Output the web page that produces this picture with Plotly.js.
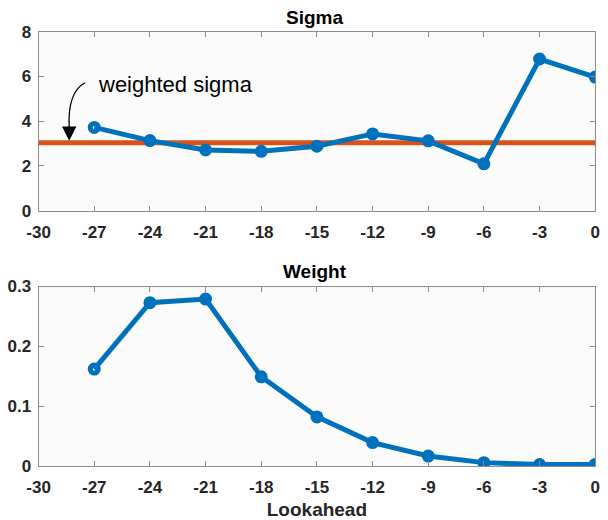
<!DOCTYPE html>
<html>
<head>
<meta charset="utf-8">
<script src="https://cdn.plot.ly/plotly-3.0.1.min.js"></script>
<style>html,body{margin:0;padding:0;background:#fff;}#chart{width:608px;height:520px;}</style>
</head>
<body>
<div id="chart"></div>
<script>
const lookahead = [-27, -24, -21, -18, -15, -12, -9, -6, -3, 0];
const sigma = [3.72, 3.13, 2.71, 2.65, 2.88, 3.43, 3.12, 2.09, 6.78, 5.97];
const weightedSigma = 3.04;
const weight = [0.162, 0.273, 0.279, 0.149, 0.082, 0.039, 0.0165, 0.0055, 0.0022, 0.0025];
const xTicks = [-30, -27, -24, -21, -18, -15, -12, -9, -6, -3, 0];
const xTickText = ['-30', '-27', '-24', '-21', '-18', '-15', '-12', '-9', '-6', '-3', '0'];
const sigmaTicks = [0, 2, 4, 6, 8];
const weightTicks = [0, 0.1, 0.2, 0.3];
const weightTickText = ['0', '0.1', '0.2', '0.3'];

const blue = '#0072BD', orange = '#D95319';
const fam = 'Liberation Sans, Arial, sans-serif';
const font = {family: fam, color: '#262626'};
const tickfont = {family: fam, size: 17, color: '#262626', weight: 'bold'};

const mk = {symbol: 'circle-open', size: 8, color: blue, line: {color: blue, width: 5}};
const traces = [
  {x: [-30, 0], y: [weightedSigma, weightedSigma], xaxis: 'x', yaxis: 'y', mode: 'lines',
   line: {color: orange, width: 5}, hoverinfo: 'skip'},
  {x: lookahead, y: sigma, xaxis: 'x', yaxis: 'y', mode: 'lines+markers',
   line: {color: blue, width: 5}, marker: mk},
  {x: lookahead, y: weight, xaxis: 'x2', yaxis: 'y2', mode: 'lines+markers',
   line: {color: blue, width: 5}, marker: mk}
];

function xax(anchor) {
  return {domain: [0.0635, 0.979], range: [-30, 0], tickvals: xTicks, ticktext: xTickText, anchor: anchor,
    showline: true, mirror: 'ticks', linecolor: '#8c8c8c', linewidth: 1,
    ticks: 'inside', ticklen: 5, tickcolor: '#8c8c8c', showgrid: false, zeroline: false,
    tickfont: tickfont, ticklabelstandoff: 6};
}
function yax(anchor, domain, range, ticks, text) {
  const a = {domain: domain, range: range, tickvals: ticks, anchor: anchor,
    showline: true, mirror: 'ticks', linecolor: '#8c8c8c', linewidth: 1,
    ticks: 'inside', ticklen: 5, tickcolor: '#8c8c8c', showgrid: false, zeroline: false,
    tickfont: tickfont, ticklabelstandoff: 3};
  if (text) a.ticktext = text;
  return a;
}

const x2 = xax('y2');
x2.title = {text: 'Lookahead', font: {family: fam, size: 19, color: '#262626', weight: 'bold'}, standoff: 9};

const layout = {
  width: 608, height: 520,
  margin: {l: 0, r: 0, t: 0, b: 0},
  paper_bgcolor: '#ffffff', plot_bgcolor: '#fbfbfb',
  showlegend: false, font: font,
  xaxis: xax('y'),
  yaxis: yax('x', [0.595, 0.939], [0, 8], sigmaTicks),
  xaxis2: x2,
  yaxis2: yax('x2', [0.104, 0.449], [0, 0.3], weightTicks, weightTickText),
  annotations: [
    {text: 'Sigma', xref: 'paper', yref: 'paper', x: 0.518, y: 0.967, showarrow: false,
     font: {family: fam, size: 19, color: '#000000', weight: 'bold'}, xanchor: 'center', yanchor: 'middle'},
    {text: 'Weight', xref: 'paper', yref: 'paper', x: 0.518, y: 0.477, showarrow: false,
     font: {family: fam, size: 19, color: '#000000', weight: 'bold'}, xanchor: 'center', yanchor: 'middle'},
    {text: 'weighted sigma', xref: 'x', yref: 'y', x: -26.9, y: 5.62, showarrow: false, xanchor: 'left', yanchor: 'middle',
     font: {family: fam, size: 22, color: '#000000'}},
    {text: '', xref: 'x', yref: 'y', x: -28.35, y: 3.12, ax: 0, ay: -16, showarrow: true,
     arrowhead: 2, arrowsize: 2.2, arrowwidth: 1.3, arrowcolor: '#000000'}
  ],
  shapes: [
    {type: 'path', xref: 'x', yref: 'y', path: 'M -27.5 5.72 Q -28.45 5.3 -28.35 3.7',
     line: {color: '#000000', width: 1.3}}
  ]
};

Plotly.newPlot('chart', traces, layout, {displayModeBar: false, staticPlot: true});
</script>
</body>
</html>
